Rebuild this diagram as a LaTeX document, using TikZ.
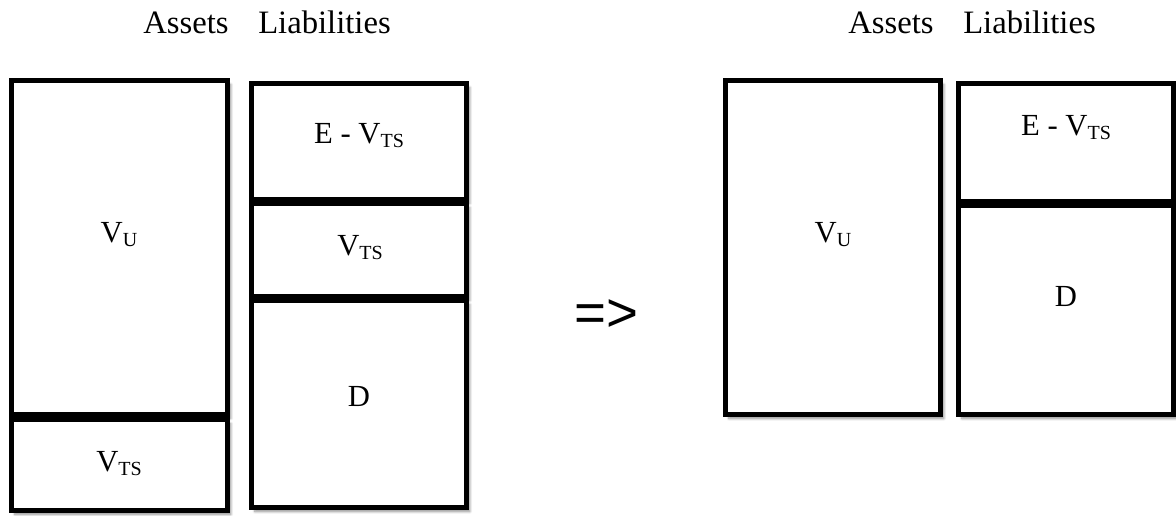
\documentclass[tikz,border=0pt]{standalone}
\usepackage{fontspec}
\setmainfont{Liberation Serif}
\newfontfamily\arrowfont{Liberation Sans}
\usetikzlibrary{shadows.blur}

\newcommand{\lowsub}[1]{\raisebox{-3pt}{\fontsize{15}{15}\selectfont #1}}

\tikzset{
  sheet/.style={line width=3.75pt, fill=white,
    blur shadow={shadow xshift=2.5pt, shadow yshift=-3pt, shadow blur steps=8, shadow opacity=45}},
  head/.style={anchor=base west, inner sep=0, font=\fontsize{24.5}{24.5}\selectfont},
  item/.style={anchor=base, inner sep=0, font=\fontsize{23}{23}\selectfont},
}

\begin{document}
\begin{tikzpicture}[x=0.75pt, y=-0.75pt]
\useasboundingbox (0,0) rectangle (1176,515);

% balance sheet with the tax shield on the assets side
\node[head] (assL) at (143,33) {Assets};
\node[head] (liaL) at (258,33) {Liabilities};

\draw[sheet] (11.5,80.5) rectangle (227.5,414.5);
\draw[sheet] (11.5,419.5) rectangle (227.5,510.5);
\node[item] (vuL) at (119,242) {V\lowsub{U}};
\node[item] (vtsA) at (119,471) {V\lowsub{TS}};

\draw[sheet] (251.5,83.5) rectangle (466.5,199.5);
\draw[sheet] (251.5,203.5) rectangle (466.5,296.5);
\draw[sheet] (251.5,300.5) rectangle (466.5,507.5);
\node[item] (eqL) at (359,143) {E - V\lowsub{TS}};
\node[item] (vtsL) at (360,255) {V\lowsub{TS}};
\node[item] (dL) at (359,406) {D};

\node (imp) at (606,316) {\arrowfont\fontsize{41}{41}\selectfont =>};

% netted out
\node[head] (assR) at (848,33) {Assets};
\node[head] (liaR) at (963,33) {Liabilities};

\draw[sheet] (725.5,80.5) rectangle (940.5,414.5);
\node[item] (vuR) at (833,242) {V\lowsub{U}};

\draw[sheet] (958.5,83.5) rectangle (1173.5,201.5);
\draw[sheet] (958.5,205.5) rectangle (1173.5,414.5);
\node[item] (eqR) at (1066,135) {E - V\lowsub{TS}};
\node[item] (dR) at (1066,306) {D};
\end{tikzpicture}
\end{document}
